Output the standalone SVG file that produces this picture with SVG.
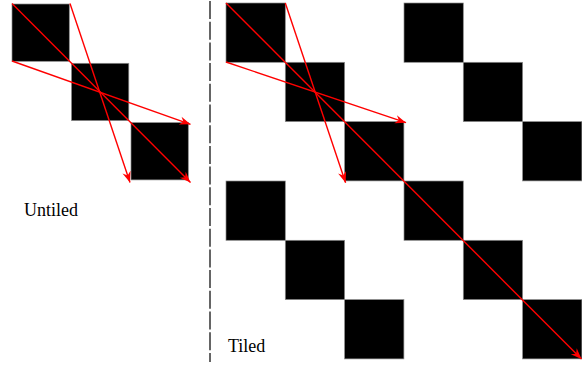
<svg xmlns="http://www.w3.org/2000/svg" width="582" height="367" viewBox="0 0 582 367">
  <style>
    .sq { fill: #000; stroke: #8a8a8a; stroke-width: 0.7; }
    .arr { stroke: #ff0000; stroke-width: 1.4; fill: none; marker-end: url(#ah); }
    .lbl { font-family: "Liberation Serif", "Times New Roman", serif; font-size: 18px; fill: #000; }
    .div { stroke: #333; stroke-width: 1.5; stroke-dasharray: 18 2.7; }
  </style>
  <defs>
    <marker id="ah" markerUnits="userSpaceOnUse" markerWidth="14" markerHeight="12" refX="12" refY="5" orient="auto" viewBox="0 0 14 10">
      <path d="M12,5 L1,0.8 L4.5,5 L1,9.2 Z" fill="#ff0000"/>
    </marker>
  </defs>
  <rect width="582" height="367" fill="#fff"/>

  <g id="divider">
    <line class="div" x1="210" y1="1" x2="210" y2="362"/>
  </g>

  <g id="untiled">
    <rect class="sq" x="12" y="4" width="57.3" height="57.3"/>
    <rect class="sq" x="71.5" y="63.3" width="57.3" height="57.3"/>
    <rect class="sq" x="131" y="122.6" width="57.3" height="57.3"/>
    <text class="lbl" x="24" y="215.7">Untiled</text>
  </g>

  <g id="tiled">
    <rect class="sq" x="226" y="3" width="59.3" height="59.3"/>
    <rect class="sq" x="285.3" y="62.3" width="59.3" height="59.3"/>
    <rect class="sq" x="344.6" y="121.6" width="59.3" height="59.3"/>
    <rect class="sq" x="404" y="3" width="59.3" height="59.3"/>
    <rect class="sq" x="463.3" y="62.3" width="59.3" height="59.3"/>
    <rect class="sq" x="522.6" y="121.6" width="59.3" height="59.3"/>
    <rect class="sq" x="226" y="181" width="59.3" height="59.3"/>
    <rect class="sq" x="285.3" y="240.3" width="59.3" height="59.3"/>
    <rect class="sq" x="344.6" y="299.6" width="59.3" height="59.3"/>
    <rect class="sq" x="404" y="181" width="59.3" height="59.3"/>
    <rect class="sq" x="463.3" y="240.3" width="59.3" height="59.3"/>
    <rect class="sq" x="522.6" y="299.6" width="59.3" height="59.3"/>
    <text class="lbl" x="228" y="351.7">Tiled</text>
  </g>

  <g id="connectors">
    <line class="arr" x1="12" y1="3.5" x2="190.5" y2="182.5"/>
    <line class="arr" x1="70" y1="3.5" x2="130" y2="182.5"/>
    <line class="arr" x1="12" y1="61" x2="190.5" y2="124.3"/>
    <line class="arr" x1="226" y1="3" x2="581.5" y2="359"/>
    <line class="arr" x1="285.3" y1="3" x2="345.6" y2="182.7"/>
    <line class="arr" x1="226" y1="62" x2="406" y2="122.7"/>
  </g>
</svg>
